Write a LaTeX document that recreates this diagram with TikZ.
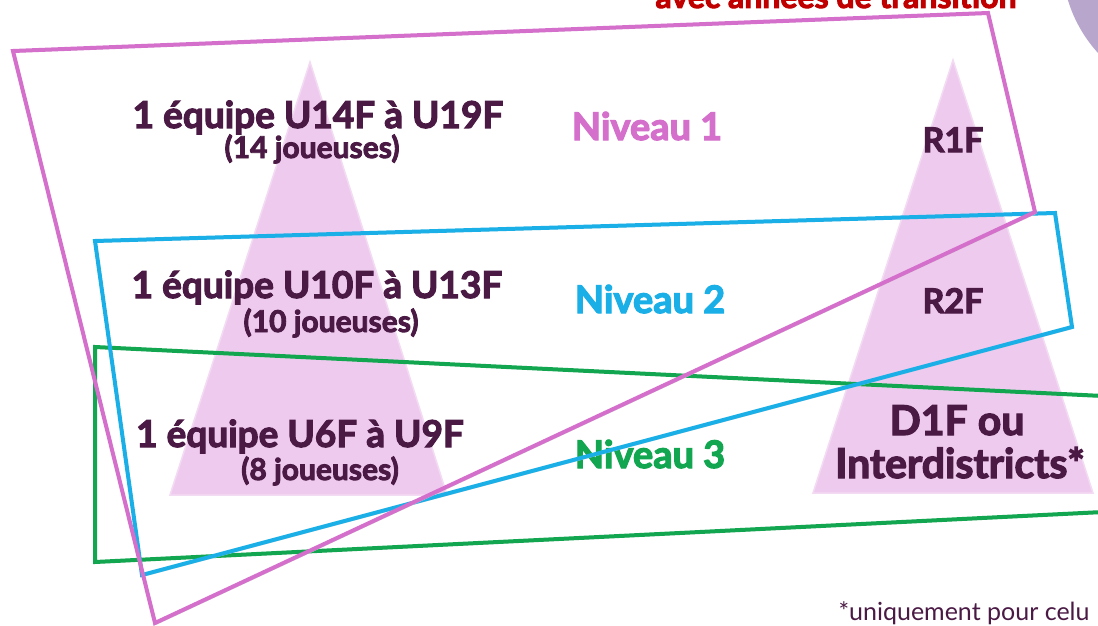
\documentclass[tikz,border=0pt]{standalone}
\usepackage{fontspec}
\setmainfont{Lato}[BoldFeatures={FakeBold=3}]
\definecolor{texte}{HTML}{4A1A45}
\definecolor{rose}{HTML}{D46FCB}
\definecolor{bleu}{HTML}{1AAFE6}
\definecolor{vert}{HTML}{12A650}
\definecolor{pyr}{HTML}{EECBEE}
\definecolor{rouge}{HTML}{C00000}
\definecolor{lavande}{HTML}{B8A6CD}
\tikzstyle{equipe} = [anchor=base, font=\bfseries\fontsize{37}{40}\selectfont, text=texte]
\tikzstyle{joueuses} = [anchor=base, font=\bfseries\fontsize{30}{32}\selectfont, text=texte]
\tikzstyle{niveau} = [anchor=base, font=\bfseries\fontsize{38}{40}\selectfont]
\tikzstyle{cadre} = [line width=4pt, line join=miter, preaction={draw=black!18, transform canvas={shift={(1.5pt,-1.5pt)}}}]
\tikzstyle{pyramide} = [fill=pyr, draw=pyr!70!white, line width=1.5pt]

\begin{document}
\begin{tikzpicture}[x=1pt, y=-1pt]
	\useasboundingbox (0,0) rectangle (1098,626);
	\clip (0,0) rectangle (1098,626);
	\fill[white] (0,0) rectangle (1098,626);
	% cercle et titre coupes
	\fill[lavande] (1200,-40) circle (138);
	\node (titre) [anchor=base, font=\bfseries\fontsize{32}{34}\selectfont, text=rouge] at (836,8) {avec années de transition};
	% pyramides
	\draw[pyramide] (310,62) -- (447,495) -- (170,495) -- cycle;
	\draw[pyramide] (953,60) -- (1093,493) -- (813,493) -- cycle;
	% equipes
	\node (eq1) [equipe] at (318,128) {1 équipe U14F à U19F};
	\node (j1) [joueuses] at (312,158) {(14 joueuses)};
	\node (eq2) [equipe] at (317,298) {1 équipe U10F à U13F};
	\node (j2) [joueuses] at (331,332) {(10 joueuses)};
	\node (eq3) [equipe] at (300,447) {1 équipe U6F à U9F};
	\node (j3) [joueuses] at (320,480) {(8 joueuses)};
	% niveaux
	\node (niv1) [niveau, text=rose] at (647,140) {Niveau 1};
	\node (niv2) [niveau, text=bleu] at (650,313) {Niveau 2};
	\node (niv3) [niveau, text=vert] at (650,468) {Niveau 3};
	% championnats
	\node (r1f) [equipe, font=\bfseries\fontsize{34}{36}\selectfont] at (953,152) {R1F};
	\node (r2f) [equipe, font=\bfseries\fontsize{34}{36}\selectfont] at (953,313) {R2F};
	\node (d1f) [equipe, font=\bfseries\fontsize{41}{42}\selectfont] at (957,435) {D1F ou};
	\node (inter) [equipe, font=\bfseries\fontsize{41}{42}\selectfont] at (960,478) {Interdistricts*};
	% cadres
	\draw[cadre, draw=vert] (95,347) -- (1103,396) -- (1103,512) -- (95,562) -- cycle;
	\draw[cadre, draw=bleu] (95,241) -- (1055,213) -- (1072,327) -- (142,575) -- cycle;
	\draw[cadre, draw=rose] (13,51) -- (988,13) -- (1035,212) -- (155,623) -- cycle;
	\node (note) [anchor=base west, font=\fontsize{25}{27}\selectfont, text=texte] at (835,620) {*uniquement pour celu};
\end{tikzpicture}
\end{document}
